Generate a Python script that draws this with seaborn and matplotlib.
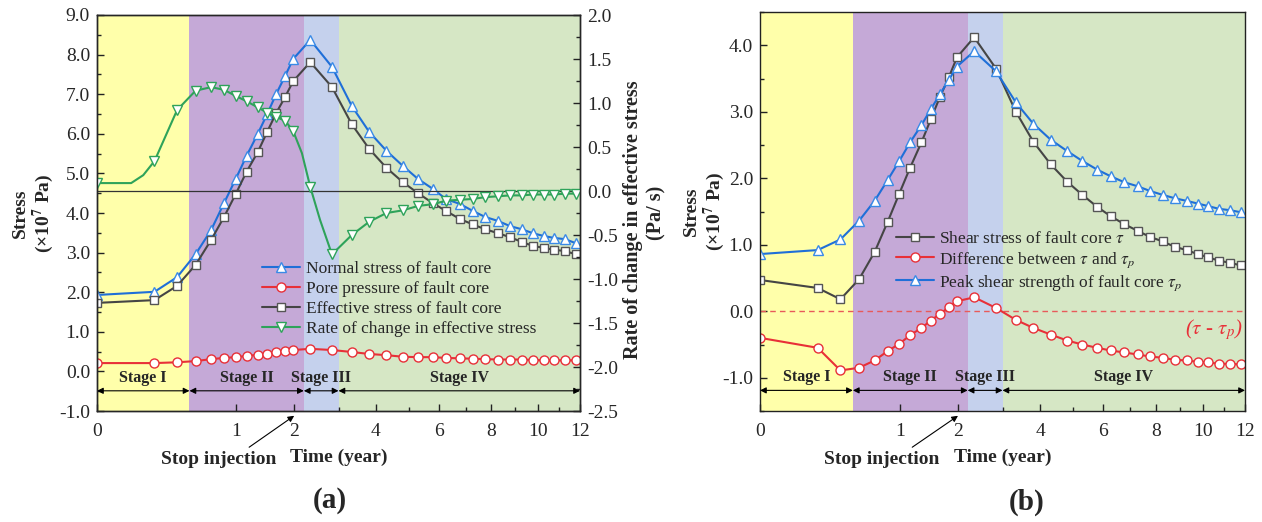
import numpy as np
import matplotlib
matplotlib.use("Agg")
import matplotlib.pyplot as plt
from matplotlib.ticker import MultipleLocator, FormatStrFormatter
import seaborn as sns
import pandas as pd

# ---------------- data ----------------
t = [0, 0.17, 0.33, 0.5, 0.67, 0.83, 0.99, 1.15, 1.33, 1.49, 1.65, 1.82, 1.98, 2.34,
     2.84, 3.34, 3.81, 4.31, 4.81, 5.30, 5.80, 6.27, 6.77, 7.27, 7.75, 8.27, 8.77,
     9.28, 9.77, 10.26, 10.75, 11.26, 11.78]

# panel (a), left axis (x10^7 Pa)
normal_a = [1.93, 2.01, 2.38, 2.96, 3.57, 4.25, 4.86, 5.44, 6.00, 6.50, 7.00, 7.46, 7.89, 8.37,
            7.69, 6.70, 6.05, 5.57, 5.19, 4.86, 4.61, 4.35, 4.23, 4.05, 3.90, 3.80, 3.67,
            3.59, 3.49, 3.42, 3.37, 3.34, 3.24]
pore_a = [0.21, 0.21, 0.23, 0.26, 0.31, 0.34, 0.36, 0.39, 0.42, 0.44, 0.49, 0.52, 0.54, 0.57,
          0.54, 0.49, 0.44, 0.41, 0.37, 0.36, 0.36, 0.34, 0.33, 0.32, 0.31, 0.30, 0.30,
          0.30, 0.29, 0.28, 0.28, 0.28, 0.28]
effective_a = [1.73, 1.80, 2.16, 2.69, 3.32, 3.90, 4.48, 5.04, 5.54, 6.05, 6.52, 6.93, 7.33, 7.81,
               7.18, 6.24, 5.62, 5.14, 4.78, 4.50, 4.25, 4.05, 3.85, 3.71, 3.59, 3.49, 3.39,
               3.27, 3.17, 3.12, 3.07, 3.04, 2.96]
# panel (a), right axis (Pa/s)
rate_a = [0.09, 0.34, 0.92, 1.14, 1.18, 1.15, 1.08, 1.02, 0.95, 0.89, 0.84, 0.80, 0.68, 0.045,
          -0.72, -0.50, -0.35, -0.25, -0.22, -0.17, -0.15, -0.11, -0.10, -0.09, -0.07, -0.06,
          -0.05, -0.05, -0.04, -0.04, -0.04, -0.03, -0.03]
# extra (unmarked) points of the rate curve
rate_extra_t = [0.06, 0.11, 2.16, 2.56]
rate_extra = [0.09, 0.18, 0.43, -0.33]

# panel (b) (x10^7 Pa)
shear_b = [0.47, 0.35, 0.18, 0.48, 0.89, 1.34, 1.77, 2.16, 2.54, 2.89, 3.22, 3.52, 3.82, 4.12,
           3.65, 3.00, 2.55, 2.21, 1.95, 1.75, 1.57, 1.43, 1.31, 1.21, 1.12, 1.05, 0.97,
           0.92, 0.86, 0.81, 0.76, 0.73, 0.69]
diff_b = [-0.40, -0.55, -0.89, -0.85, -0.74, -0.60, -0.49, -0.36, -0.25, -0.14, -0.04, 0.06, 0.15,
          0.21, 0.05, -0.13, -0.25, -0.35, -0.44, -0.50, -0.55, -0.59, -0.62, -0.65, -0.68,
          -0.70, -0.73, -0.74, -0.76, -0.77, -0.79, -0.79, -0.80]
peak_b = [0.86, 0.92, 1.08, 1.36, 1.66, 1.97, 2.26, 2.54, 2.80, 3.04, 3.26, 3.48, 3.68, 3.91,
          3.61, 3.14, 2.82, 2.58, 2.41, 2.26, 2.13, 2.03, 1.94, 1.88, 1.81, 1.75, 1.70,
          1.66, 1.62, 1.58, 1.54, 1.52, 1.49]

stage_edges = [0, 0.44, 2.2, 3.0, 12]
stage_names = ["Stage I", "Stage II", "Stage III", "Stage IV"]
stage_colors = ["#ffffaa", "#c5a9d7", "#c5d1ed", "#d6e7c5"]
xticks = [0, 1, 2, 4, 6, 8, 10, 12]
xticks_minor = [3, 5, 7, 9, 11]

labels_a = ["Normal stress of fault core", "Pore pressure of fault core",
            "Effective stress of fault core", "Rate of change in effective stress"]
labels_b = [r"Shear stress of fault core $\tau$", r"Difference between $\tau$ and $\tau_p$",
            r"Peak shear strength of fault core $\tau_p$"]

# ---------------- style ----------------
sns.set_theme(style="ticks")
plt.rcParams["font.family"] = ["Liberation Serif", "DejaVu Serif"]
plt.rcParams["mathtext.fontset"] = "stix"
plt.rcParams["axes.linewidth"] = 1.0

BLUE = "#1f6fd8"
BLUE_E = "#3a8ae6"
RED = "#e83038"
GREY = "#454545"
GREY_E = "#555555"
GREEN = "#2ea35a"

W, H = 1262, 522
fig = plt.figure(figsize=(W / 100, H / 100), dpi=100)
axa = fig.add_axes([97 / W, 1 - 411 / H, 483 / W, 396 / H])
axb = fig.add_axes([760 / W, 1 - 411 / H, 485 / W, 399 / H])


def fwd(x):
    return np.sqrt(np.clip(x, 0, None))


def inv(x):
    return np.square(x)


def mid(a, b):
    return ((np.sqrt(a) + np.sqrt(b)) / 2) ** 2


def ticks(ax):
    ax.tick_params(which="both", direction="in", labelsize=14, width=1, color="#222222")
    ax.tick_params(which="major", length=5)
    ax.tick_params(which="minor", length=3)
    ax.tick_params(axis="x", pad=9)
    ax.tick_params(axis="y", pad=5)


def setup(ax):
    ax.set_xscale("function", functions=(fwd, inv))
    ax.set_xlim(0, 12)
    ax.set_xticks(xticks)
    ax.set_xticklabels([str(v) for v in xticks])
    ax.set_xticks(xticks_minor, minor=True)
    for a, b, c in zip(stage_edges[:-1], stage_edges[1:], stage_colors):
        ax.axvspan(a, b, color=c, lw=0, zorder=0)
    ticks(ax)
    for s in ax.spines.values():
        s.set_color("#222222")


def stages(ax, y_arrow, y_text):
    for a, b, name in zip(stage_edges[:-1], stage_edges[1:], stage_names):
        ax.annotate("", xy=(b, y_arrow), xytext=(a, y_arrow),
                    arrowprops=dict(arrowstyle="<|-|>", color="black", lw=0.8,
                                    mutation_scale=9, shrinkA=0, shrinkB=0), zorder=5)
        ax.text(mid(a, b), y_text, name, ha="center", va="center",
                fontsize=11.5, fontweight="bold", zorder=5)


def stop_injection(ax, text_xy_px, relx):
    ax.annotate("Stop injection", xy=(2, -0.012), xycoords=ax.get_xaxis_transform(),
                xytext=(text_xy_px[0] / W, 1 - text_xy_px[1] / H), textcoords="figure fraction",
                ha="center", va="center", fontsize=14, fontweight="bold",
                arrowprops=dict(arrowstyle="-|>", color="black", lw=0.8, mutation_scale=9,
                                shrinkA=0, shrinkB=0, relpos=(relx, 0.95)),
                annotation_clip=False)


def series(ax, x, y, color, ecolor, marker, ms, label, **kw):
    sns.lineplot(x=x, y=y, ax=ax, color=color, lw=1.5, marker=marker, markersize=ms,
                 markerfacecolor="white", markeredgecolor=ecolor, markeredgewidth=1.0,
                 label=label, legend=False, errorbar=None, **kw)


# ---------------- panel (a) ----------------
setup(axa)
axa.set_ylim(-1.0, 9.0)
axa.yaxis.set_major_locator(MultipleLocator(1.0))
axa.yaxis.set_minor_locator(MultipleLocator(0.5))
axa.yaxis.set_major_formatter(FormatStrFormatter("%.1f"))

axr = axa.twinx()
axr.set_ylim(-2.5, 2.0)
axr.yaxis.set_major_locator(MultipleLocator(0.5))
axr.yaxis.set_minor_locator(MultipleLocator(0.25))
axr.yaxis.set_major_formatter(FormatStrFormatter("%.1f"))
ticks(axr)
axr.axhline(0, color="#333333", lw=0.9, zorder=1)

series(axa, t, normal_a, BLUE, BLUE_E, "^", 7.5, labels_a[0])
series(axa, t, pore_a, RED, RED, "o", 6.5, labels_a[1])
series(axa, t, effective_a, GREY, GREY_E, "s", 6, labels_a[2])

green = pd.DataFrame({"t": t + rate_extra_t, "v": rate_a + rate_extra,
                      "m": [True] * len(t) + [False] * len(rate_extra_t)})
green = green.sort_values("t").reset_index(drop=True)
mk = [int(i) for i in green.index[green["m"]]]
series(axr, green["t"].to_numpy(), green["v"].to_numpy(), GREEN, GREEN, "v", 7.5, labels_a[3],
       markevery=mk, sort=False)
axr.set_ylabel("")
axr.set_xlabel("")
axa.set_ylabel("")
axa.set_xlabel("Time (year)", fontsize=14, fontweight="bold", labelpad=6)

stages(axa, -0.49, -0.17)
stop_injection(axa, (219, 459), 0.71)

h1, l1 = axa.get_legend_handles_labels()
h2, l2 = axr.get_legend_handles_labels()
axr.legend(h1 + h2, l1 + l2, loc="upper left", bbox_to_anchor=(0.342, 0.378),
           frameon=False, fontsize=12.5, handlelength=2.2, handletextpad=0.3,
           labelspacing=0.22, borderaxespad=0, borderpad=0)

fig.text(34 / W, 1 - 213 / H, "Stress\n(\u00d710$^{\\mathbf{7}}$ Pa)", rotation=90, ha="center",
         va="center", fontsize=14, fontweight="bold", linespacing=1.05)
fig.text(633 / W, 1 - 220 / H, "Rate of change in effective stress", rotation=90,
         ha="center", va="center", fontsize=14.5, fontweight="bold")
fig.text(656 / W, 1 - 213 / H, "(Pa/ s)", rotation=90,
         ha="center", va="center", fontsize=14.5, fontweight="bold")
fig.text(330 / W, 1 - 500 / H, "(a)", ha="center", va="center", fontsize=21, fontweight="bold")

# ---------------- panel (b) ----------------
setup(axb)
axb.set_ylim(-1.5, 4.5)
axb.yaxis.set_major_locator(MultipleLocator(1.0))
axb.yaxis.set_minor_locator(MultipleLocator(0.5))
axb.yaxis.set_major_formatter(FormatStrFormatter("%.1f"))
axb.set_yticks([-1.0, 0.0, 1.0, 2.0, 3.0, 4.0])
axb.axhline(0, color="#e85a5a", lw=1.0, ls=(0, (4, 3)), zorder=1)

series(axb, t, shear_b, GREY, GREY_E, "s", 6, labels_b[0])
series(axb, t, diff_b, RED, RED, "o", 6.5, labels_b[1])
series(axb, t, peak_b, BLUE, BLUE_E, "^", 7.5, labels_b[2])
axb.set_ylabel("")
axb.set_xlabel("Time (year)", fontsize=14, fontweight="bold", labelpad=6)

stages(axb, -1.19, -0.99)
stop_injection(axb, (882, 459), 0.71)

axb.legend(loc="upper left", bbox_to_anchor=(0.28, 0.452), frameon=False, fontsize=12.5,
           handlelength=2.2, handletextpad=0.3, labelspacing=0.2, borderaxespad=0, borderpad=0)
axb.text(0.995, -0.27, r"($\tau$ - $\tau_p$)", color=RED, ha="right", va="center",
         fontsize=15, transform=axb.get_yaxis_transform(), style="italic")

fig.text(705 / W, 1 - 211 / H, "Stress\n(\u00d710$^{\\mathbf{7}}$ Pa)", rotation=90, ha="center",
         va="center", fontsize=14, fontweight="bold", linespacing=1.05)
fig.text(1027 / W, 1 - 502 / H, "(b)", ha="center", va="center", fontsize=21, fontweight="bold")

fig.savefig("out.png", dpi=100)
